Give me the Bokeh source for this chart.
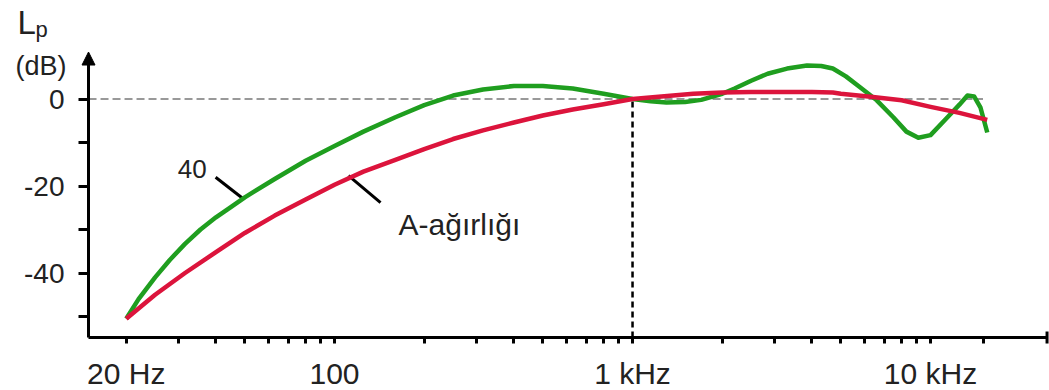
from bokeh.plotting import figure
from bokeh.models import FixedTicker, Label, Arrow, NormalHead, TeeHead, Range1d
from bokeh.embed import file_html
from bokeh.resources import INLINE

# ---- data ----
freq_green = [20, 22, 25, 28, 31.5, 35.5, 40, 45, 50, 63, 80, 100, 125, 160, 200, 250,
              315, 400, 500, 630, 800, 1000, 1150, 1300, 1500, 1700, 2000, 2200,
              2500, 2840, 3300, 3850, 4300, 4700, 5200, 5800, 6600, 7500, 8300, 9100,
              10000, 11400, 12500, 13300, 14000, 14700, 15500]
db_green = [-50.5, -46, -41, -37, -33.3, -30, -27.2, -24.8, -22.6, -18.4, -14.2, -10.8,
            -7.5, -4.2, -1.4, 0.8, 2.2, 3.0, 3.0, 2.4, 1.2, 0, -0.5, -0.8, -0.7, -0.2,
            1.2, 2.4, 4.2, 5.8, 7.0, 7.7, 7.6, 7.0, 5.2, 2.7, -0.3, -4.2, -7.5, -8.9,
            -8.3, -4.2, -1.3, 0.8, 0.6, -1.9, -7.7]

freq_red = [20, 25, 31.5, 40, 50, 63, 80, 100, 125, 160, 200, 250, 315, 400, 500, 630,
            800, 1000, 1250, 1600, 2000, 2500, 3150, 4000, 4700, 5000, 6300, 8000,
            10000, 12500, 15500]
db_red = [-50.5, -45, -40, -35.2, -30.8, -26.8, -23.1, -19.7, -16.7, -14.0, -11.5,
          -9.2, -7.2, -5.4, -3.8, -2.4, -1.2, 0, 0.6, 1.2, 1.5, 1.6, 1.6, 1.6, 1.5,
          1.2, 0.5, -0.3, -1.8, -3.2, -4.8]

x_major = [20, 100, 1000, 10000]
x_labels = ["20 Hz", "100", "1 kHz", "10 kHz"]
x_minor = [30, 40, 50, 60, 70, 80, 90, 200, 300, 400, 500, 600, 700, 800, 900,
           2000, 3000, 4000, 5000, 6000, 7000, 8000, 9000, 15000]
y_ticks = [-50, -40, -30, -20, -10, 0]
y_labels = ["", "-40", "", "-20", "", "0"]

label_40 = "40"
label_a = "A-ağırlığı"

# view ranges and axis placement (data units)
X_VIEW = (7.5707, 25072)
Y_VIEW = (-67.01, 22.644)
Y_AXIS_AT_FREQ = 14.945     # where the dB axis crosses
X_AXIS_AT_DB = -54.83       # where the frequency axis crosses
X_AXIS_END = 24600
Y_ARROW_TIP = 10.8
REF_DB = 0
REF_FREQ = 1000
REF_LINE_END = 15000

# leader lines (annotation pointers)
lead_x0 = [39.9, 111.4]
lead_y0 = [-18.0, -17.6]
lead_x1 = [49.5, 142.7]
lead_y1 = [-23.0, -23.8]

FONT = "Liberation Sans"
TXT = "#222222"

p = figure(width=1049, height=390, x_axis_type="log",
           x_range=Range1d(*X_VIEW), y_range=Range1d(*Y_VIEW),
           output_backend="svg", toolbar_location=None,
           min_border_left=0, min_border_right=0, min_border_top=0, min_border_bottom=0)
p.grid.visible = False
p.outline_line_color = None
p.background_fill_color = "white"

xa = p.xaxis[0]
xa.fixed_location = X_AXIS_AT_DB
xa.ticker = FixedTicker(ticks=x_major, minor_ticks=x_minor)
xa.major_label_overrides = dict(zip(x_major, x_labels))
xa.bounds = (Y_AXIS_AT_FREQ, X_AXIS_END)
xa.axis_line_width = 3
xa.major_tick_line_width = 3
xa.minor_tick_line_width = 3
xa.major_tick_in = 0
xa.minor_tick_in = 0
xa.major_tick_out = 6
xa.minor_tick_out = 6
xa.major_label_standoff = 13
xa.major_label_text_font = FONT
xa.major_label_text_font_size = "30px"
xa.major_label_text_color = TXT

ya = p.yaxis[0]
ya.fixed_location = Y_AXIS_AT_FREQ
ya.ticker = FixedTicker(ticks=y_ticks)
ya.major_label_overrides = dict(zip(y_ticks, y_labels))
ya.bounds = (X_AXIS_AT_DB, Y_ARROW_TIP - 2)
ya.axis_line_width = 3
ya.major_tick_line_width = 3
ya.minor_tick_line_color = None
ya.major_tick_in = 0
ya.major_tick_out = 10
ya.major_label_standoff = 14
ya.major_label_text_font = FONT
ya.major_label_text_font_size = "28px"
ya.major_label_text_color = TXT

# reference lines
p.line([Y_AXIS_AT_FREQ, REF_LINE_END], [REF_DB, REF_DB], line_color="#999999",
       line_width=2, line_dash="8 4")
p.line([REF_FREQ, REF_FREQ], [X_AXIS_AT_DB, REF_DB], line_color="black",
       line_width=2.5, line_dash="6 4")

# leader lines
p.segment(x0=lead_x0, y0=lead_y0, x1=lead_x1, y1=lead_y1, line_color="black", line_width=3)

# curves
p.line(freq_green, db_green, line_color="#1f9e1f", line_width=4.5, line_join="round")
p.line(freq_red, db_red, line_color="#dc143c", line_width=4.5, line_join="round")

# y-axis arrow head and x-axis end bar
p.add_layout(Arrow(end=NormalHead(size=13, fill_color="black", line_color="black"),
                   x_start=Y_AXIS_AT_FREQ, y_start=Y_ARROW_TIP - 4,
                   x_end=Y_AXIS_AT_FREQ, y_end=Y_ARROW_TIP,
                   line_width=3, line_color="black"))
p.add_layout(Arrow(end=TeeHead(size=12, line_width=3, line_color="black"),
                   x_start=X_AXIS_END / 1.2, y_start=X_AXIS_AT_DB,
                   x_end=X_AXIS_END, y_end=X_AXIS_AT_DB,
                   line_width=3, line_color="black"))

# curve labels
p.add_layout(Label(x=29.8, y=-16.2, text=label_40, text_baseline="alphabetic",
                   text_font=FONT, text_font_size="26px", text_color=TXT))
p.add_layout(Label(x=164, y=-28.8, text=label_a, text_baseline="alphabetic",
                   text_font=FONT, text_font_size="30px", text_color=TXT))

# axis title "Lp (dB)" above the y axis
p.add_layout(Label(x=8.634, y=17.6, text="L",
                   text_baseline="alphabetic", text_font=FONT, text_font_size="33px",
                   text_color=TXT))
p.add_layout(Label(x=9.923, y=16.0, text="p",
                   text_baseline="alphabetic", text_font=FONT, text_font_size="22px",
                   text_color=TXT))
p.add_layout(Label(x=8.502, y=7.7, text="(dB)",
                   text_baseline="alphabetic", text_font=FONT, text_font_size="27px",
                   text_color=TXT))

open("out.html", "w").write(file_html(p, INLINE))
